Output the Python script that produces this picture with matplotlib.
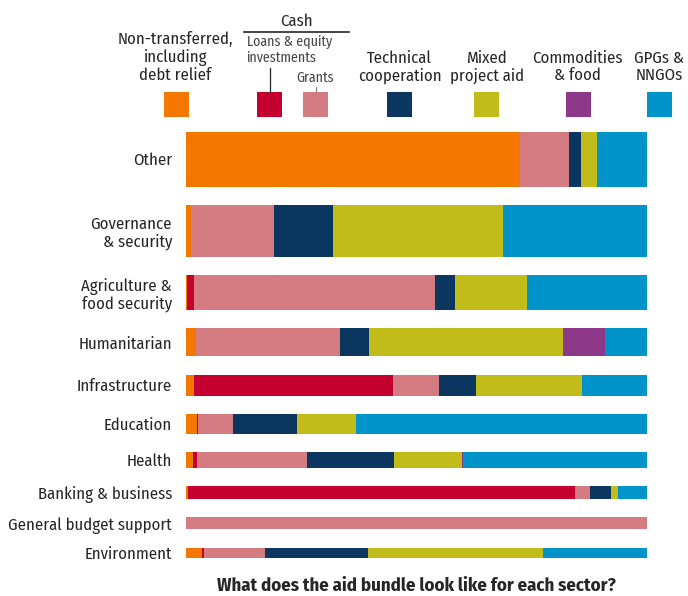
import matplotlib
matplotlib.use("Agg")
import matplotlib.pyplot as plt
from matplotlib.patches import Rectangle
from matplotlib.lines import Line2D
import numpy as np

FONT = ['Fira Sans Condensed', 'Roboto Condensed', 'DejaVu Sans']
plt.rcParams['font.family'] = FONT

# ---------------- data ----------------
categories = ["Other", "Governance\n& security", "Agriculture &\nfood security", "Humanitarian",
              "Infrastructure", "Education", "Health", "Banking & business",
              "General budget support", "Environment"]
# relative volume of each sector (bar thickness)
volume = [55, 52, 35, 28, 21, 20, 16, 13, 12, 10]

non_transferred = [72.4, 1.1, 0.3, 2.2, 1.7, 2.4, 1.5, 0.5, 0.0, 3.5]
loans_equity    = [0.0, 0.0, 1.5, 0.0, 43.2, 0.3, 0.9, 83.7, 0.0, 0.3]
grants          = [10.7, 18.0, 52.3, 31.2, 10.0, 7.4, 23.9, 3.3, 100.0, 13.4]
technical       = [2.6, 12.8, 4.3, 6.3, 8.0, 13.9, 18.9, 4.6, 0.0, 22.3]
mixed_project   = [3.5, 36.9, 15.6, 41.9, 23.0, 13.0, 14.7, 1.5, 0.0, 38.0]
commodities     = [0.0, 0.0, 0.0, 9.3, 0.0, 0.0, 0.3, 0.0, 0.0, 0.0]
gpgs_nngos      = [10.8, 31.2, 26.0, 9.0, 14.1, 63.1, 39.9, 6.3, 0.0, 22.6]

series = [non_transferred, loans_equity, grants, technical, mixed_project, commodities, gpgs_nngos]
colors = ["#F47700", "#C4002F", "#D47C81", "#0B365F", "#C2BC1A", "#8E3889", "#0194CA"]

title = "What does the aid bundle look like for each sector?"

# ---------------- figure ----------------
W, H = 688, 596
fig = plt.figure(figsize=(W / 100, H / 100), dpi=100)

def fx(x):
    return x / W

def fy(y):
    return 1 - y / H

ax_left, ax_right, ax_top, ax_bottom = 186, 647, 131.5, 557.7
ax = fig.add_axes([fx(ax_left), fy(ax_bottom), fx(ax_right - ax_left), (ax_bottom - ax_top) / H])

gap = 18.2
vol = np.array(volume, dtype=float)
starts = np.concatenate([[0], np.cumsum(vol + gap)[:-1]])
centers = starts + vol / 2
total = starts[-1] + vol[-1]

data = np.array(series, dtype=float)
data = data / data.sum(axis=0) * 100
left = np.zeros(len(categories))
for vals, c in zip(data, colors):
    ax.barh(centers, vals, height=vol, left=left, color=c, linewidth=0)
    left += vals

tc = "#262626"
FS = 12
LS = 1.1

ax.set_xlim(0, 100)
ax.set_ylim(total, 0)
ax.set_yticks(centers)
ax.set_yticklabels(categories, fontsize=FS, color=tc, linespacing=LS)
ax.tick_params(axis='y', length=0, pad=10)
ax.set_xticks([])
for s in ax.spines.values():
    s.set_visible(False)

# ---------------- legend ----------------
sq_w, sq_top, sq_h = 24.5, 92, 24.7
legend_items = [
    (164, "Non-transferred,\nincluding\ndebt relief", 175.5, 80),
    (257, None, None, None),
    (303, None, None, None),
    (387, "Technical\ncooperation", 399.7, 80.5),
    (474, "Mixed\nproject aid", 486.7, 80.5),
    (566, "Commodities\n& food", 577.8, 80.5),
    (647, "GPGs &\nNNGOs", 658.8, 80.5),
]
for (x0, lab, cx, base), c in zip(legend_items, colors):
    fig.patches.append(Rectangle((fx(x0), fy(sq_top + sq_h)), sq_w / W, sq_h / H,
                                 transform=fig.transFigure, color=c, linewidth=0))
    if lab:
        fig.text(fx(cx), fy(base), lab, ha='center', va='baseline', fontsize=FS,
                 color=tc, linespacing=LS)

# Cash group
fig.text(fx(296), fy(26), "Cash", ha='center', va='baseline', fontsize=FS, color=tc)
fig.add_artist(Line2D([fx(244), fx(349)], [fy(31.7), fy(31.7)], color=tc, lw=1.2))
fig.text(fx(246.5), fy(61.5), "Loans & equity\ninvestments", ha='left', va='baseline',
         fontsize=10, color="#444444", linespacing=1.08)
fig.text(fx(296.5), fy(81.5), "Grants", ha='left', va='baseline', fontsize=10, color="#444444")
fig.add_artist(Line2D([fx(270), fx(270)], [fy(68), fy(92)], color=tc, lw=0.9))
fig.add_artist(Line2D([fx(316), fx(316)], [fy(87), fy(92)], color="#888888", lw=0.9))

# ---------------- title ----------------
fig.text(fx(416), fy(591), title, ha='center', va='baseline', fontsize=13.5,
         fontweight='bold', color=tc)

fig.savefig("out.png", dpi=100)
